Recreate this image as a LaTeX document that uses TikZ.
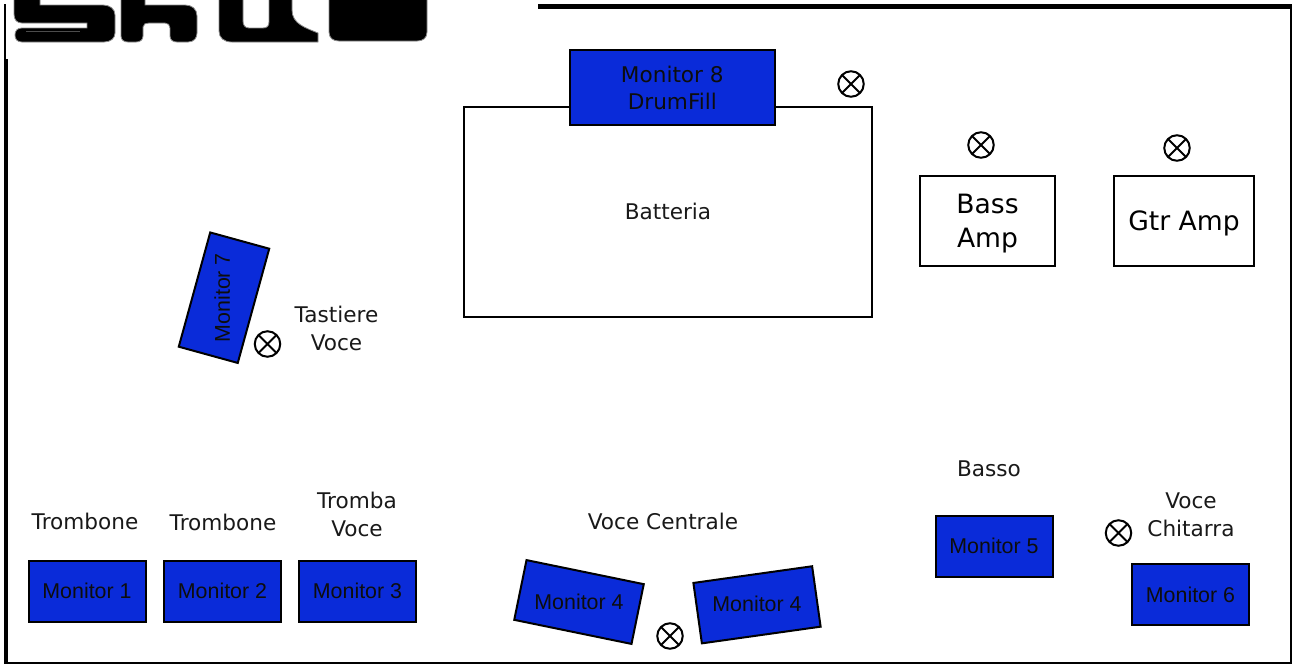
\documentclass[tikz,border=0pt]{standalone}
\usepackage{fontspec}
\setmainfont{DejaVu Sans}
\newfontfamily\monfont{Liberation Sans}
\definecolor{monblue}{RGB}{10,43,217}
\tikzset{
  lbl/.style={inner sep=0pt,align=center,text=black!90,font=\fontsize{21.6}{28}\selectfont},
  ampbox/.style={draw=black,line width=2pt,fill=white,inner sep=0pt,align=center,font=\fontsize{26.6}{34}\selectfont},
  drumbox/.style={draw=black,line width=2pt,fill=white,inner sep=0pt,align=center,text=black!90,font=\fontsize{21.6}{28}\selectfont},
  monbox/.style={draw=black,line width=2pt,fill=monblue,inner sep=0pt,align=center,text=black!95,minimum width=117pt,minimum height=61pt,font=\monfont\fontsize{21.4}{25}\selectfont},
  micsym/.style={circle,draw=black,line width=2pt,fill=white,inner sep=0pt,minimum size=25.5pt,
    path picture={\draw[line width=1.9pt] (path picture bounding box.north west)--(path picture bounding box.south east)
      (path picture bounding box.north east)--(path picture bounding box.south west);}},
  framethick/.style={fill=black,draw=none}
}
\begin{document}
\begin{tikzpicture}[x=1pt,y=-1pt]
\useasboundingbox (0,0) rectangle (1292,664);
\fill[white] (0,0) rectangle (1292,664);
% frame
\fill[framethick] (4.2,59) rectangle (8.2,664);
\fill[framethick] (4.2,4) rectangle (5.6,59);
\fill[framethick] (538,4) rectangle (1292,8.9);
\fill[framethick] (1290,4) rectangle (1292,664);
\fill[framethick] (4.2,662.4) rectangle (1292,664);
% logo
\fill[black,draw=black!45,line width=.8pt] (14,-1) -- (14,14) .. controls (14,20) and (17,23) .. (22,23) -- (87,23) -- (87,28) -- (22,28)
  .. controls (17,28) and (15,31) .. (15,35) .. controls (15,39) and (17,42) .. (22,42) -- (104,42)
  .. controls (111,42) and (115,38) .. (115,33) -- (115,15) .. controls (115,9) and (110,5) .. (103,5) -- (40,5) -- (40,-1) -- cycle;
\draw[black!70,line width=1pt] (26,31.5) -- (80,31.5);
\fill[black,draw=black!45,line width=.8pt] (121,-1) -- (121,36) .. controls (121,40) and (124,42) .. (128,42) -- (136,42)
  .. controls (140,42) and (143,40) .. (143,36) -- (143,27) .. controls (143,24) and (146,23) .. (149,23) -- (165,23)
  .. controls (168,23) and (170,25) .. (170,28) -- (170,36) .. controls (170,40) and (173,42) .. (177,42) -- (188,42)
  .. controls (194,42) and (197,38) .. (197,33) -- (197,16) .. controls (197,9) and (192,5) .. (185,5) -- (150,5) -- (145,5) -- (145,-1) -- cycle;
\fill[black,draw=black!45,line width=.8pt] (219,-1) -- (219,31) .. controls (219,38) and (224,42) .. (232,42) -- (318,42) -- (318,33)
  .. controls (306,28) and (292,24) .. (292,10) -- (292,-1) -- (269,-1) -- (269,22) .. controls (269,26) and (267,28) .. (263,28)
  -- (249,28) .. controls (245,28) and (243,25) .. (243,21) -- (243,-1) -- cycle;
\fill[black,draw=black!45,line width=.8pt] (329,-1) -- (329,32) .. controls (329,38) and (333,41) .. (339,41) -- (417,41)
  .. controls (423,41) and (427,38) .. (427,32) -- (427,-1) -- cycle;
% drum kit and amps
\node[drumbox,minimum width=408pt,minimum height=210pt] (drums) at (668,211.5) {Batteria};
\node[monbox,minimum width=204.5pt,minimum height=75pt,font=\fontsize{21.6}{28}\selectfont] (mon8) at (672.3,87.5) {Monitor 8\\[-1pt]DrumFill};
\node[ampbox,minimum width=135pt,minimum height=90pt] (bass) at (987.5,221) {\raisebox{-3pt}[\height][\depth]{Bass}\\\raisebox{-3pt}[\height][\depth]{Amp}};
\node[ampbox,minimum width=140pt,minimum height=90pt] (gtr) at (1184,221) {\raisebox{-2pt}[\height][\depth]{Gtr Amp}};
% monitors
\node[monbox] (mon1) at (87,591) {Monitor 1};
\node[monbox] (mon2) at (222.5,591) {Monitor 2};
\node[monbox] (mon3) at (357.5,591) {Monitor 3};
\node[monbox,rotate=-11.6,minimum width=119.7pt] (mon4a) at (579,602) {\rotatebox{11.6}{Monitor 4}};
\node[monbox,rotate=8,minimum width=119.9pt] (mon4b) at (757,604.8) {\rotatebox{-8}{\raisebox{2pt}{Monitor 4}}};
\node[monbox] (mon5) at (994,546) {Monitor 5};
\node[monbox] (mon6) at (1190.5,594.5) {Monitor 6};
\node[monbox,rotate=-15.4,minimum width=61.2pt,minimum height=118.5pt] (mon7) at (224,297.7) {\rotatebox{105.4}{\raisebox{4pt}{Monitor 7}}};
% microphones
\node[micsym] (micd) at (851,84) {};
\node[micsym] (micb) at (981,145) {};
\node[micsym] (micg) at (1177,148) {};
\node[micsym] (mict) at (267.5,344) {};
\node[micsym] (micv) at (670,636) {};
\node[micsym] (micc) at (1118.5,533) {};
% labels
\node[lbl] (t1) at (85,521) {Trombone};
\node[lbl] (t2) at (223,522) {Trombone};
\node[lbl] (t3) at (357,514.5) {Tromba\\Voce};
\node[lbl] (vc) at (663,521) {Voce Centrale};
\node[lbl] (ba) at (989,468.5) {Basso};
\node[lbl] (ch) at (1191,514.5) {Voce\\Chitarra};
\node[lbl] (ta) at (336.5,328.5) {Tastiere\\Voce};
\end{tikzpicture}
\end{document}
